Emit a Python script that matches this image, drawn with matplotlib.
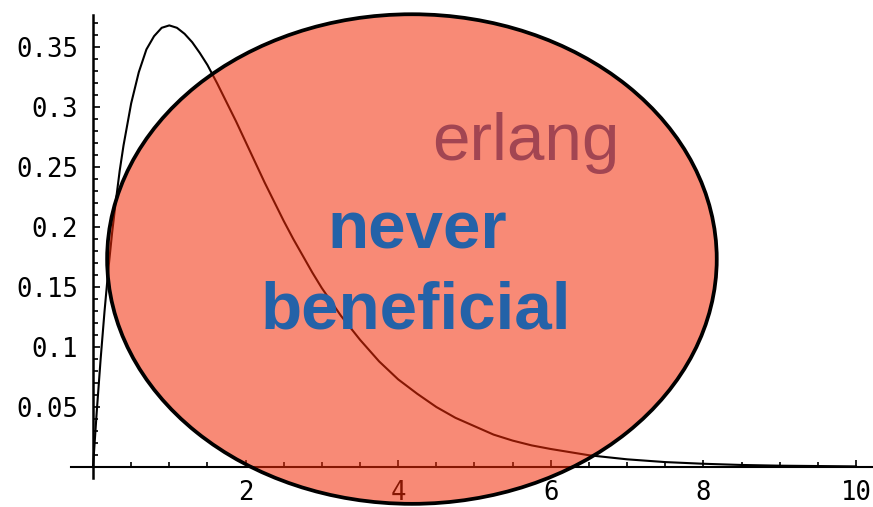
import numpy as np
import matplotlib
matplotlib.use("Agg")
import matplotlib.pyplot as plt
from matplotlib.patches import Ellipse

# erlang density
xs = [0, 0.05, 0.1, 0.15, 0.2, 0.25, 0.3, 0.35, 0.4, 0.5, 0.6, 0.7, 0.8, 0.9,
      1.0, 1.1, 1.2, 1.3, 1.4, 1.5, 1.625, 1.75, 1.875, 2.0, 2.125, 2.25, 2.375,
      2.5, 2.625, 2.75, 2.875, 3.0, 3.25, 3.5, 3.75, 4.0, 4.25, 4.5, 4.75, 5.0,
      5.25, 5.5, 5.75, 6.0, 6.5, 7.0, 7.5, 8.0, 8.5, 9.0, 10.0]
ys = [0, 0.047, 0.09, 0.129, 0.164, 0.195, 0.222, 0.247, 0.268, 0.303, 0.329,
      0.348, 0.359, 0.366, 0.368, 0.366, 0.361, 0.354, 0.345, 0.335, 0.320,
      0.304, 0.288, 0.271, 0.254, 0.237, 0.221, 0.205, 0.190, 0.176, 0.162,
      0.149, 0.126, 0.106, 0.088, 0.073, 0.061, 0.050, 0.041, 0.034, 0.027,
      0.022, 0.018, 0.015, 0.0098, 0.0064, 0.0041, 0.0027, 0.0017, 0.0011,
      0.0005]

xticks = [2, 4, 6, 8, 10]
xticklabels = ["2", "4", "6", "8", "10"]
yticks = [0.05, 0.1, 0.15, 0.2, 0.25, 0.3, 0.35]
yticklabels = ["0.05", "0.1", "0.15", "0.2", "0.25", "0.3", "0.35"]

# the "never beneficial" region
ell_center = (4.18, 0.1733)
ell_w, ell_h = 7.99, 0.408

fig = plt.figure(figsize=(8.73, 5.07), dpi=100)
ax = fig.add_axes([0, 0, 1, 1])
ax.set_xlim(-1.219, 10.223)
ax.set_ylim(-0.03333, 0.38917)
ax.set_axisbelow(True)

for s in ["top", "right"]:
    ax.spines[s].set_visible(False)
ax.spines["left"].set_position(("data", 0))
ax.spines["bottom"].set_position(("data", 0))
ax.spines["left"].set_bounds(-0.009, 0.3767)
ax.spines["bottom"].set_bounds(-0.29, 10.223)
ax.spines["left"].set_linewidth(1.8)
ax.spines["bottom"].set_linewidth(1.5)

ax.set_xticks(xticks)
ax.set_xticklabels(xticklabels)
ax.set_xticks(np.arange(0.5, 10.01, 0.5), minor=True)
ax.set_yticks(yticks)
ax.set_yticklabels(yticklabels)
ax.set_yticks(np.arange(0.01, 0.375, 0.01), minor=True)

ax.tick_params(which="both", direction="in", width=1.2, color="black")
ax.tick_params(which="major", length=5)
ax.tick_params(which="minor", length=3.5)
ax.tick_params(axis="y", which="major", pad=10.8)
ax.tick_params(axis="x", which="major", pad=9.0)
for lab in ax.get_xticklabels() + ax.get_yticklabels():
    lab.set_fontfamily("DejaVu Sans Mono")
    lab.set_fontsize(18.5)

ax.plot(xs, ys, color="black", lw=1.5, zorder=2, clip_on=False,
        solid_joinstyle="round")

ell = Ellipse(ell_center, ell_w, ell_h, facecolor=(0.957, 0.165, 0.024, 0.55),
              edgecolor="black", lw=2.7, zorder=3, clip_on=False)
ax.add_patch(ell)

ax.text(0.6025, 0.684, "erlang", transform=ax.transAxes, ha="center",
        va="baseline", fontsize=48.5, family="Liberation Sans",
        color="#A24552", zorder=4)
ax.text(0.4777, 0.5108, "never", transform=ax.transAxes, ha="center",
        va="baseline", fontsize=48.5, family="Liberation Sans",
        fontweight="bold", color="#2462A8", zorder=4)
ax.text(0.4765, 0.353, "beneficial", transform=ax.transAxes, ha="center",
        va="baseline", fontsize=48.5, family="Liberation Sans",
        fontweight="bold", color="#2462A8", zorder=4)

fig.savefig("out.png", dpi=100)
